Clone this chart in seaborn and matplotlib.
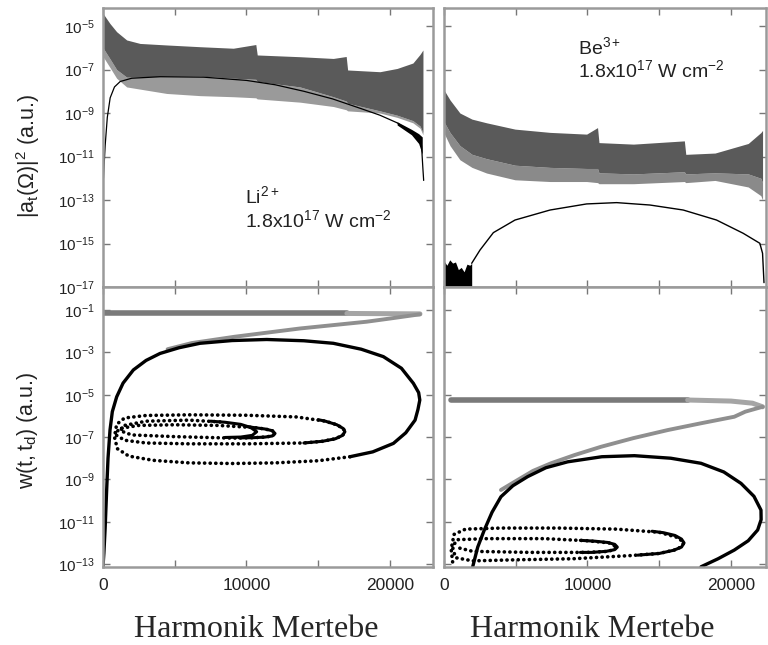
import numpy as np
import pandas as pd
import matplotlib
matplotlib.use("Agg")
import matplotlib.pyplot as plt
import seaborn as sns

sns.set_style("ticks")
plt.rcParams['font.family'] = ['Liberation Sans', 'DejaVu Sans']
plt.rcParams['mathtext.fontset'] = 'custom'
plt.rcParams['mathtext.rm'] = 'Liberation Sans'
plt.rcParams['mathtext.it'] = 'Liberation Sans:italic'
plt.rcParams['mathtext.default'] = 'regular'

# ---------------- data (x = harmonic order, values = log10) ----------------
# top-left: Li2+ spectrum band (gray: dense upper part + sparse lower fringe) and classical curve (black)
li_band_x = [0, 480, 950, 1650, 2580, 4440, 6760, 9080, 10650, 10750, 13730, 16050, 16950, 17050, 19300, 20500, 21600, 22100, 22300]
li_band_hi = [-4.42, -4.88, -5.26, -5.64, -5.80, -5.87, -5.95, -6.02, -5.85, -6.33, -6.41, -6.49, -6.40, -7.02, -7.10, -6.95, -6.70, -6.30, -6.10]
li_band_mid = [-6.00, -6.50, -7.00, -7.35, -7.35, -7.30, -7.30, -7.40, -7.45, -7.55, -7.80, -8.25, -8.45, -8.55, -8.90, -9.10, -9.35, -9.60, -9.90]
li_band_lo = [-6.40, -6.90, -7.40, -7.80, -7.90, -8.10, -8.20, -8.25, -8.30, -8.35, -8.50, -8.70, -8.85, -8.90, -9.00, -9.20, -9.45, -9.70, -10.0]
li_curve_x = [30, 150, 300, 500, 800, 1200, 2000, 4000, 7000, 10000, 12000, 14000, 16000, 18000, 19300, 20500, 21600, 22000, 22200, 22300, 22350]
li_curve_y = [-12.0, -10.5, -9.2, -8.3, -7.8, -7.55, -7.4, -7.33, -7.35, -7.5, -7.7, -8.0, -8.35, -8.8, -9.1, -9.45, -9.93, -10.15, -10.5, -11.6, -12.1]

# top-right: Be3+ spectrum band and classical curve
be_band_x = [0, 420, 1110, 1950, 2970, 4950, 7390, 9940, 10700, 10800, 13200, 16750, 16850, 18890, 21200, 22080, 22200]
be_band_hi = [-7.94, -8.40, -9.00, -9.28, -9.45, -9.74, -9.89, -9.97, -9.67, -10.36, -10.43, -10.28, -10.90, -10.84, -10.40, -9.90, -9.80]
be_band_mid = [-9.40, -9.90, -10.50, -10.90, -11.10, -11.40, -11.50, -11.55, -11.55, -11.75, -11.80, -11.70, -11.80, -11.75, -11.80, -12.00, -12.2]
be_band_lo = [-9.92, -10.50, -11.15, -11.50, -11.76, -12.07, -12.15, -12.15, -12.20, -12.25, -12.25, -12.15, -12.20, -12.10, -12.40, -12.80, -13.0]
be_curve_x = [1930, 2510, 3440, 4950, 7390, 9940, 12030, 14350, 16670, 18990, 20850, 22010, 22200, 22300]
be_curve_y = [-15.91, -15.3, -14.5, -13.92, -13.46, -13.18, -13.12, -13.23, -13.46, -13.92, -14.53, -14.99, -15.45, -16.8]
be_blob_x = [0, 200, 400, 600, 800, 1000, 1200, 1400, 1600, 1800, 1930]
be_blob_y = [-15.8, -16.0, -15.75, -15.9, -15.85, -16.2, -16.1, -16.3, -15.95, -16.0, -15.91]

# bottom-left: Li2+ trajectories
li_gray_row_x = [0, 17000, 22090]
li_gray_row_y = [-1.16, -1.16, -1.18]
li_gray_ret_x = [22090, 20000, 18375, 13730, 9180, 6180, 4500]
li_gray_ret_y = [-1.20, -1.40, -1.55, -1.87, -2.26, -2.56, -2.85]
li_loop_x = [0, 60, 150, 255, 350, 488, 650, 953, 1400, 2115, 3000, 3975, 5300, 6760, 9000, 11410, 14000, 16050, 18000,
             19540, 20800, 21630, 22000, 22080, 21950, 21750, 21100, 20240, 18800, 17210]
li_loop_y = [-13.1, -12.5, -11.3, -9.5, -8.0, -6.67, -5.8, -5.1, -4.45, -3.83, -3.38, -3.05, -2.78, -2.57, -2.44, -2.39, -2.45, -2.57, -2.85,
             -3.2, -3.75, -4.46, -4.9, -5.25, -5.7, -6.2, -6.8, -7.3, -7.7, -7.93]
li_dot_x = [17210, 15000, 12000, 9000, 6000, 3500, 1800, 1000, 800, 950, 1500, 3000, 6000, 10000, 13500, 15500,
            16300, 16750, 16860, 16700, 16200, 15300, 14000, 10000, 6000, 3000, 1500, 900, 1100, 2500, 5000, 8000, 10500,
            11300, 11800, 11990, 11800, 11300, 10500, 9000, 5000, 2000, 1200, 1500, 3000, 6000, 8500]
li_dot_y = [-7.93, -8.12, -8.22, -8.25, -8.22, -8.10, -7.90, -7.55, -7.0, -6.4, -6.1, -5.98, -5.95, -5.97, -6.05, -6.25,
            -6.42, -6.6, -6.75, -6.92, -7.08, -7.2, -7.28, -7.32, -7.32, -7.28, -7.15, -6.9, -6.6, -6.45, -6.42, -6.45, -6.55,
            -6.62, -6.7, -6.83, -6.95, -7.0, -7.03, -7.05, -6.98, -6.9, -6.7, -6.45, -6.25, -6.2, -6.3]
li_tip_a_x = [15000, 15500, 16300, 16750, 16860, 16700, 16200, 15300, 14000]
li_tip_a_y = [-6.18, -6.25, -6.42, -6.6, -6.75, -6.92, -7.08, -7.2, -7.28]
li_tip_b_x = [10000, 10500, 11300, 11800, 11990, 11800, 11300, 10500, 9500]
li_tip_b_y = [-6.5, -6.55, -6.62, -6.7, -6.83, -6.95, -7.0, -7.03, -7.04]
li_tip_c_x = [7500, 8500, 9600, 10300, 10710, 10400, 9600, 8500]
li_tip_c_y = [-6.25, -6.3, -6.4, -6.55, -6.75, -6.92, -7.0, -7.02]

# bottom-right: Be3+ trajectories
be_gray_row_x = [490, 16980, 20000, 21500, 22200]
be_gray_row_y = [-5.25, -5.25, -5.30, -5.40, -5.57]
be_gray_ret_x = [22200, 21000, 20230, 17900, 15590, 13200, 10940, 9100, 7455, 6200, 5130, 3970]
be_gray_ret_y = [-5.57, -5.80, -6.04, -6.35, -6.67, -7.05, -7.46, -7.85, -8.24, -8.6, -9.03, -9.5]
be_loop_x = [2000, 2350, 2810, 3350, 3970, 4800, 5830, 7100, 8620, 11000, 13270, 15800, 17910, 19500, 20700, 21600,
             22090, 22100, 21860, 21200, 20230, 19100, 17910]
be_loop_y = [-13.13, -12.2, -11.39, -10.55, -9.82, -9.3, -8.87, -8.45, -8.17, -7.93, -7.88, -8.0, -8.24, -8.65, -9.19, -9.8,
             -10.45, -10.9, -11.39, -11.9, -12.34, -12.75, -13.13]
be_dot_x = [600, 500, 700, 1500, 4000, 8000, 12000, 15000, 16300, 16730, 16300, 15000, 13000, 9000, 5000, 2000,
            800, 600, 900, 3000, 7000, 10000, 11500, 12080, 11500, 10000, 6000, 2000, 800]
be_dot_y = [-12.9, -12.3, -11.6, -11.35, -11.3, -11.3, -11.35, -11.5, -11.75, -12.0, -12.3, -12.5, -12.6, -12.75, -12.8, -12.85,
            -12.7, -12.2, -11.85, -11.8, -11.8, -11.9, -12.0, -12.2, -12.4, -12.45, -12.45, -12.4, -12.2]
be_tip_a_x = [14500, 15300, 16100, 16550, 16730, 16550, 16000, 15000, 13500]
be_tip_a_y = [-11.45, -11.52, -11.65, -11.82, -12.0, -12.2, -12.35, -12.5, -12.58]
be_tip_b_x = [9500, 10500, 11400, 11900, 12080, 11900, 11300, 10300, 9500]
be_tip_b_y = [-11.88, -11.92, -11.98, -12.07, -12.2, -12.32, -12.4, -12.45, -12.45]

top_exps = [-17, -15, -13, -11, -9, -7, -5]
bot_exps = [-13, -11, -9, -7, -5, -3, -1]
x_ticks = [0, 5000, 10000, 15000, 20000]
x_labels = ['0', '', '10000', '', '20000']
ion_labels = [r'Li$^{2+}$', r'Be$^{3+}$']
intensity_label = r'1.8x10$^{17}$ W cm$^{-2}$'
ylabels = [r'$|a_t(\Omega)|^2$ (a.u.)', r'$w(t,t_d)$ (a.u.)']
xlabel_text = 'Harmonik Mertebe'

# ---------------- helpers ----------------
def p(v):
    return np.power(10.0, np.asarray(v, dtype=float))

def line(ax, xs, ys, **kw):
    df = pd.DataFrame({'x': xs, 'y': p(ys)})
    sns.lineplot(data=df, x='x', y='y', sort=False, estimator=None, ax=ax, legend=False, **kw)

W, H = 768, 645
fig = plt.figure(figsize=(W / 100, H / 100), dpi=100)
axTL = fig.add_axes([103 / W, (H - 287) / H, 330 / W, 279 / H])
axBL = fig.add_axes([103 / W, (H - 567) / H, 330 / W, 280 / H])
axTR = fig.add_axes([444 / W, (H - 287) / H, 322 / W, 279 / H])
axBR = fig.add_axes([444 / W, (H - 567) / H, 322 / W, 280 / H])

for ax in (axTL, axBL, axTR, axBR):
    ax.set_yscale('log')

# top-left
axTL.fill_between(li_band_x, p(li_band_lo), p(li_band_mid), color='#9a9a9a', lw=0)
axTL.fill_between(li_band_x, p(li_band_mid), p(li_band_hi), color='#5a5a5a', lw=0)
axTL.fill_between([20500, 21500, 22000, 22250], p([-9.55, -10.0, -10.4, -10.9]), p([-9.4, -9.75, -9.95, -10.1]), color='black', lw=0)
line(axTL, li_curve_x, li_curve_y, color='black', lw=0.9)

# top-right
axTR.fill_between(be_band_x, p(be_band_lo), p(be_band_mid), color='#8a8a8a', lw=0)
axTR.fill_between(be_band_x, p(be_band_mid), p(be_band_hi), color='#5a5a5a', lw=0)
axTR.fill_between(be_blob_x, p([-17.2] * len(be_blob_x)), p(be_blob_y), color='black', lw=0)
line(axTR, be_curve_x, be_curve_y, color='black', lw=1.0)

# bottom panels
dot_style = dict(color='black', lw=2.6, linestyle=(0, (0.05, 1.5)), dash_capstyle='round')
for ax, grow_x, grow_y, gret_x, gret_y, lx, ly, dx, dy in (
        (axBL, li_gray_row_x, li_gray_row_y, li_gray_ret_x, li_gray_ret_y, li_loop_x, li_loop_y, li_dot_x, li_dot_y),
        (axBR, be_gray_row_x, be_gray_row_y, be_gray_ret_x, be_gray_ret_y, be_loop_x, be_loop_y, be_dot_x, be_dot_y)):
    line(ax, grow_x[:2], grow_y[:2], color='#7a7a7a', lw=4.0)
    line(ax, grow_x[1:], grow_y[1:], color='#a5a5a5', lw=3.6)
    line(ax, gret_x, gret_y, color='#8f8f8f', lw=2.8)
    line(ax, lx, ly, color='black', lw=2.4)
    line(ax, dx, dy, **dot_style)

for tx, ty in ((li_tip_a_x, li_tip_a_y), (li_tip_b_x, li_tip_b_y), (li_tip_c_x, li_tip_c_y)):
    line(axBL, tx, ty, color='black', lw=2.2)
for tx, ty in ((be_tip_a_x, be_tip_a_y), (be_tip_b_x, be_tip_b_y)):
    line(axBR, tx, ty, color='black', lw=2.2)

# axes formatting
spine_c = '#9a9a9a'
for ax, xmax, exps, lo, hi in ((axTL, 23000, top_exps, -17, -4.17), (axTR, 22440, top_exps, -17, -4.17),
                               (axBL, 23000, bot_exps, -13.14, 0.09), (axBR, 22440, bot_exps, -13.14, 0.09)):
    ax.set_xlim(0, xmax)
    ax.set_ylim(10.0 ** lo, 10.0 ** hi)
    ax.set_yticks([10.0 ** e for e in exps])
    ax.set_yticklabels([r'$10^{%d}$' % e for e in exps])
    ax.yaxis.set_minor_locator(matplotlib.ticker.NullLocator())
    ax.set_xticks(x_ticks)
    ax.set_xticklabels(x_labels)
    ax.tick_params(direction='in', length=5, width=1, color='#777777', top=True, right=True,
                   labelsize=11, pad=6, labelcolor='#222222')
    ax.tick_params(axis='x', labelsize=12.5, pad=8)
    ax.set_xlabel('')
    ax.set_ylabel('')
    for s in ax.spines.values():
        s.set_color(spine_c)
        s.set_linewidth(1.8)

for ax in (axTL, axTR):
    ax.tick_params(labelbottom=False)
for ax in (axTR, axBR):
    ax.tick_params(labelleft=False)

fig.text(28 / W, 1 - 156 / H, ylabels[0], fontsize=15.5, rotation=90, ha='center', va='center', color='#222222')
fig.text(28 / W, 1 - 430 / H, ylabels[1], fontsize=15.5, rotation=90, ha='center', va='center', color='#222222')

# annotations
fig.text(245 / W, 1 - 196 / H, ion_labels[0], fontsize=14, va='center', ha='left', color='#222222')
fig.text(245 / W, 1 - 220 / H, intensity_label, fontsize=14, va='center', ha='left', color='#222222')
fig.text(578 / W, 1 - 47 / H, ion_labels[1], fontsize=14, va='center', ha='left', color='#222222')
fig.text(578 / W, 1 - 70 / H, intensity_label, fontsize=14, va='center', ha='left', color='#222222')

fig.text(256 / W, 1 - 637 / H, xlabel_text, fontsize=23, family='Liberation Serif', ha='center', va='baseline')
fig.text(592 / W, 1 - 637 / H, xlabel_text, fontsize=23, family='Liberation Serif', ha='center', va='baseline')

fig.savefig('out.png', dpi=100)
